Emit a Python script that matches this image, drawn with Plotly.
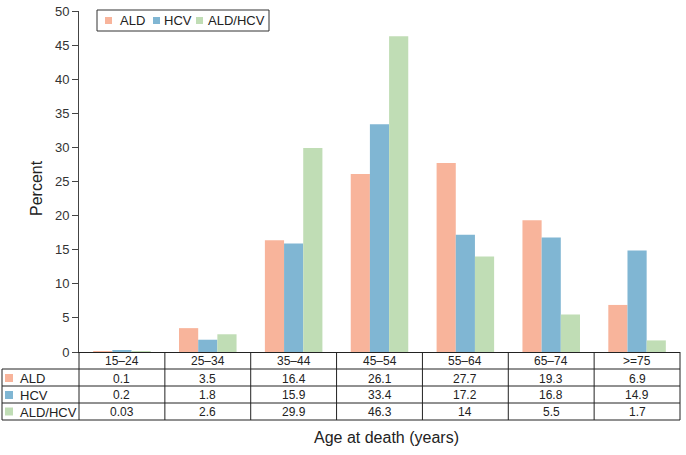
import plotly.graph_objects as go

categories = ["15\u201324", "25\u201334", "35\u201344", "45\u201354", "55\u201364", "65\u201374", ">=75"]
ald = [0.1, 3.5, 16.4, 26.1, 27.7, 19.3, 6.9]
hcv = [0.2, 1.8, 15.9, 33.4, 17.2, 16.8, 14.9]
ald_hcv = [0.03, 2.6, 29.9, 46.3, 14, 5.5, 1.7]
ald_hcv_labels = ["0.03", "2.6", "29.9", "46.3", "14", "5.5", "1.7"]
series_names = ["ALD", "HCV", "ALD/HCV"]
colors = ["#F8B49B", "#80B6D3", "#C0DDB5"]
y_ticks = [0, 5, 10, 15, 20, 25, 30, 35, 40, 45, 50]

W, H = 686, 455
# plot area in screen pixels: x 79..680, y 11..352
PL, PR, PT, PB = 79, 680, 11, 352
L, T = PL, PT
R = W - PR
B = H - PB
plot_w = PR - PL
plot_h = PB - PT


def px(xp):
    return (xp - PL) / plot_w


def py(yp):
    return (PB - yp) / plot_h


fig = go.Figure()
series = [ald, hcv, ald_hcv]
for name, vals, c in zip(series_names, series, colors):
    fig.add_trace(go.Bar(x=categories, y=vals, name=name, showlegend=False,
                         marker=dict(color=c, line=dict(width=0))))

line_col = "#222222"
text_col = "#222222"
shapes = []
annotations = []

# table grid
for yp in [369, 386, 403, 420]:
    shapes.append(dict(type="line", xref="paper", yref="paper", x0=px(2), x1=1, y0=py(yp), y1=py(yp),
                       line=dict(color=line_col, width=1)))
shapes.append(dict(type="line", xref="paper", yref="paper", x0=px(2), x1=px(2), y0=py(369), y1=py(420),
                   line=dict(color=line_col, width=1)))
shapes.append(dict(type="line", xref="paper", yref="paper", x0=0, x1=0, y0=0, y1=py(420),
                   line=dict(color=line_col, width=1)))
shapes.append(dict(type="line", xref="paper", yref="paper", x0=1, x1=1, y0=0, y1=py(420),
                   line=dict(color=line_col, width=1)))
for i in range(len(categories) - 1):
    shapes.append(dict(type="line", xref="x", yref="paper", x0=i + 0.5, x1=i + 0.5, y0=0, y1=py(420),
                       line=dict(color=line_col, width=1)))

# header row (category labels)
for cat in categories:
    annotations.append(dict(xref="x", yref="paper", x=cat, y=py(361), text=cat, showarrow=False,
                            xanchor="center", yanchor="middle", font=dict(size=12, color=text_col)))

row_centers = [378.5, 395.5, 412]
row_values = [[str(v) for v in ald], [str(v) for v in hcv], ald_hcv_labels]
for name, c, yc, vals in zip(series_names, colors, row_centers, row_values):
    shapes.append(dict(type="rect", xref="paper", yref="paper", x0=px(5), x1=px(13), y0=py(yc - 4.5), y1=py(yc + 3.5),
                       fillcolor=c, line=dict(width=0)))
    annotations.append(dict(xref="paper", yref="paper", x=px(18), y=py(yc), text=name, showarrow=False,
                            xanchor="left", yanchor="middle", font=dict(size=13, color=text_col)))
    for cat, v in zip(categories, vals):
        annotations.append(dict(xref="x", yref="paper", x=cat, y=py(yc), text=v, showarrow=False,
                                xanchor="center", yanchor="middle", font=dict(size=12, color=text_col)))

# custom legend
shapes.append(dict(type="rect", xref="paper", yref="paper", x0=px(97), x1=px(269), y0=py(10), y1=py(31),
                   line=dict(color="#333333", width=1), fillcolor="white"))
legend_sq_x = [105, 153, 196]
legend_txt_x = [118, 162, 206]
for name, c, sx, tx in zip(series_names, colors, legend_sq_x, legend_txt_x):
    shapes.append(dict(type="rect", xref="paper", yref="paper", x0=px(sx), x1=px(sx + 7), y0=py(17), y1=py(24),
                       fillcolor=c, line=dict(width=0)))
    annotations.append(dict(xref="paper", yref="paper", x=px(tx), y=py(20.5), text=name, showarrow=False,
                            xanchor="left", yanchor="middle", font=dict(size=13, color=text_col)))

# axis titles
annotations.append(dict(xref="paper", yref="paper", x=px(386), y=py(437), text="Age at death (years)",
                        showarrow=False, xanchor="center", yanchor="middle", font=dict(size=16, color=text_col)))
annotations.append(dict(xref="paper", yref="paper", x=px(36), y=py(188), text="Percent", textangle=-90,
                        showarrow=False, xanchor="center", yanchor="middle", font=dict(size=16, color=text_col)))

fig.update_layout(
    width=W, height=H,
    margin=dict(l=L, r=R, t=T, b=B, pad=0),
    paper_bgcolor="white", plot_bgcolor="white",
    font=dict(family="Liberation Sans, Arial, sans-serif", size=12, color=text_col),
    barmode="group", bargap=0.33, bargroupgap=0,
    showlegend=False,
    hovermode=False,
    shapes=shapes,
    annotations=annotations,
    xaxis=dict(type="category", range=[-0.5, 6.5], showline=True, linecolor=line_col, linewidth=1,
               ticks="", showticklabels=False, showgrid=False, automargin=False),
    yaxis=dict(range=[0, 50], tickvals=y_ticks, showline=True, linecolor="#444444", linewidth=1,
               ticks="outside", ticklen=6, tickcolor="#444444", showgrid=False, zeroline=False,
               tickfont=dict(size=13, color="#333333"), automargin=False, ticklabeloverflow="allow"),
)

fig.write_html("out.html", config={"displayModeBar": False},
               post_script="document.body.style.margin='0';document.body.style.overflow='hidden';")
